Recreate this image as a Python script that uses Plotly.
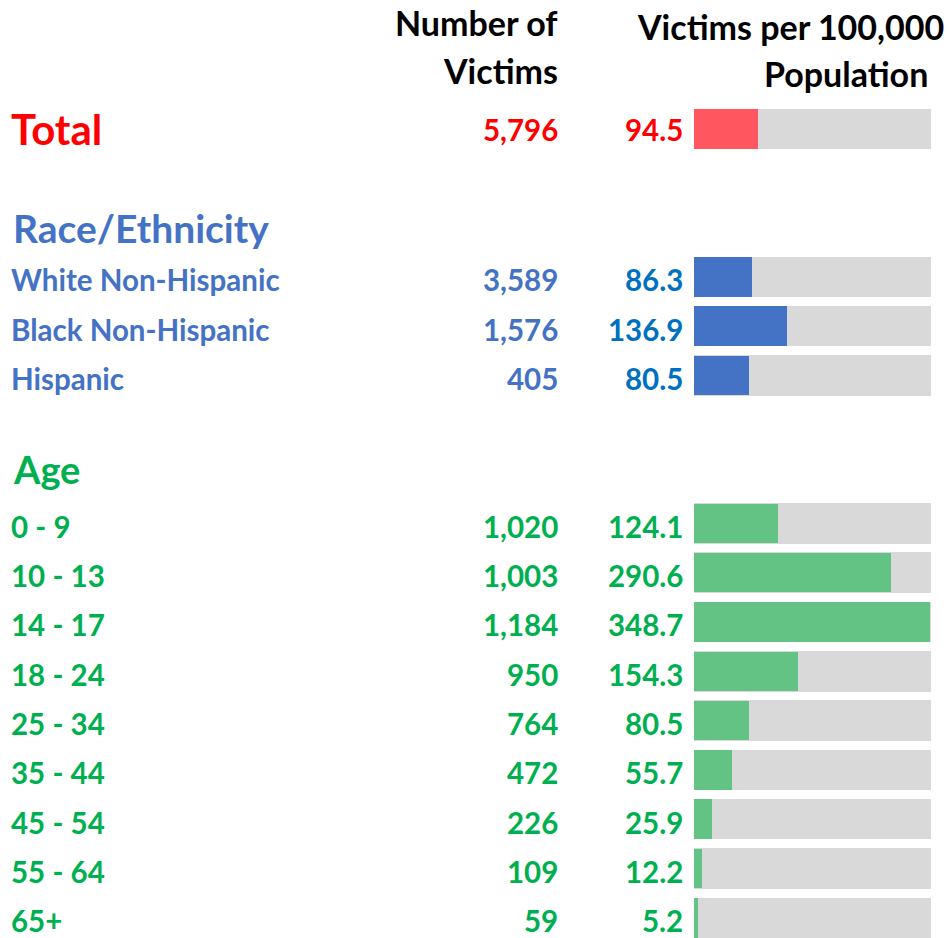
import plotly.graph_objects as go

# ---- data ----
row_labels = ["Total", "Race/Ethnicity", "White Non-Hispanic", "Black Non-Hispanic", "Hispanic",
              "Age", "0 - 9", "10 - 13", "14 - 17", "18 - 24", "25 - 34", "35 - 44", "45 - 54",
              "55 - 64", "65+"]
row_slots = [0, 2, 3, 4, 5, 7, 8, 9, 10, 11, 12, 13, 14, 15, 16]
victims = [5796, None, 3589, 1576, 405, None, 1020, 1003, 1184, 950, 764, 472, 226, 109, 59]
rates = [94.5, None, 86.3, 136.9, 80.5, None, 124.1, 290.6, 348.7, 154.3, 80.5, 55.7, 25.9, 12.2, 5.2]
row_kind = ["total", "header", "race", "race", "race", "header", "age", "age", "age", "age",
            "age", "age", "age", "age", "age"]
scale_max = 350

FONT = "Lato"
label_color = {"total": "#FF0000", "race": "#4472C4", "age": "#00B050"}
rate_color = {"total": "#FF0000", "race": "#0070C0", "age": "#00B050"}
bar_color = {"total": "#FF565F", "race": "#4472C4", "age": "#63C384"}
header_color = {"Race/Ethnicity": "#4472C4", "Age": "#00B050"}
header_shift = {"Race/Ethnicity": 0.0, "Age": -0.1}

W, H = 951, 938
fig = go.Figure()

bar_slots = [s for s, r in zip(row_slots, rates) if r is not None]
bar_vals = [r for r in rates if r is not None]
bar_cols = [bar_color[k] for k, r in zip(row_kind, rates) if r is not None]

fig.add_trace(go.Bar(x=[scale_max] * len(bar_slots), y=bar_slots, orientation="h",
                     marker=dict(color="#D9D9D9", line=dict(width=0)), width=0.82,
                     hoverinfo="skip", showlegend=False))
fig.add_trace(go.Bar(x=bar_vals, y=bar_slots, orientation="h",
                     marker=dict(color=bar_cols, line=dict(width=0)), width=0.80,
                     showlegend=False))

ann = []
for lab, s, v, r, k in zip(row_labels, row_slots, victims, rates, row_kind):
    if k == "header":
        size = 39 if lab == "Race/Ethnicity" else 38
        ann.append(dict(text=lab, x=11 / W, xref="paper", y=s + header_shift[lab], yref="y",
                        xanchor="left", yanchor="middle", showarrow=False,
                        font=dict(family=FONT, size=size, color=header_color[lab], weight="bold")))
        continue
    size = 42 if k == "total" else 29.5
    ty = s + (0.0 if k == "total" else 0.06)
    ann.append(dict(text=lab, x=9 / W, xref="paper", y=ty, yref="y", xanchor="left",
                    yanchor="middle", showarrow=False,
                    font=dict(family=FONT, size=size, color=label_color[k], weight="bold")))
    ann.append(dict(text=f"{v:,}", x=560 / W, xref="paper", y=ty, yref="y", xanchor="right",
                    yanchor="middle", showarrow=False,
                    font=dict(family=FONT, size=29.5, color=label_color[k], weight="bold")))
    ann.append(dict(text=f"{r:.1f}", x=685 / W, xref="paper", y=ty, yref="y", xanchor="right",
                    yanchor="middle", showarrow=False,
                    font=dict(family=FONT, size=29.5, color=rate_color[k], weight="bold")))

hdr_font = dict(family=FONT, size=34, color="#000000", weight="bold")
ann.append(dict(text="Number of", x=560 / W, xref="paper", y=1 - 22 / H, yref="paper",
                xanchor="right", yanchor="middle", showarrow=False, font=hdr_font))
ann.append(dict(text="Victims", x=560 / W, xref="paper", y=1 - 70 / H, yref="paper",
                xanchor="right", yanchor="middle", showarrow=False, font=hdr_font))
ann.append(dict(text="Victims per 100,000", x=946 / W, xref="paper", y=1 - 26 / H, yref="paper",
                xanchor="right", yanchor="middle", showarrow=False, font=hdr_font))
ann.append(dict(text="Population", x=930 / W, xref="paper", y=1 - 73 / H, yref="paper",
                xanchor="right", yanchor="middle", showarrow=False, font=hdr_font))

px0, pitch = 129.0, 49.3
fig.update_layout(
    width=W, height=H, margin=dict(l=0, r=0, t=0, b=0),
    paper_bgcolor="white", plot_bgcolor="white",
    barmode="overlay", bargap=0,
    xaxis=dict(domain=[694 / W, 931 / W], range=[0, scale_max], visible=False, fixedrange=True),
    yaxis=dict(range=[(H - px0) / pitch, -px0 / pitch], visible=False, fixedrange=True),
    annotations=ann,
)
fig.write_html("out.html", config={"displayModeBar": False},
               post_script="document.body.style.margin='0';")
